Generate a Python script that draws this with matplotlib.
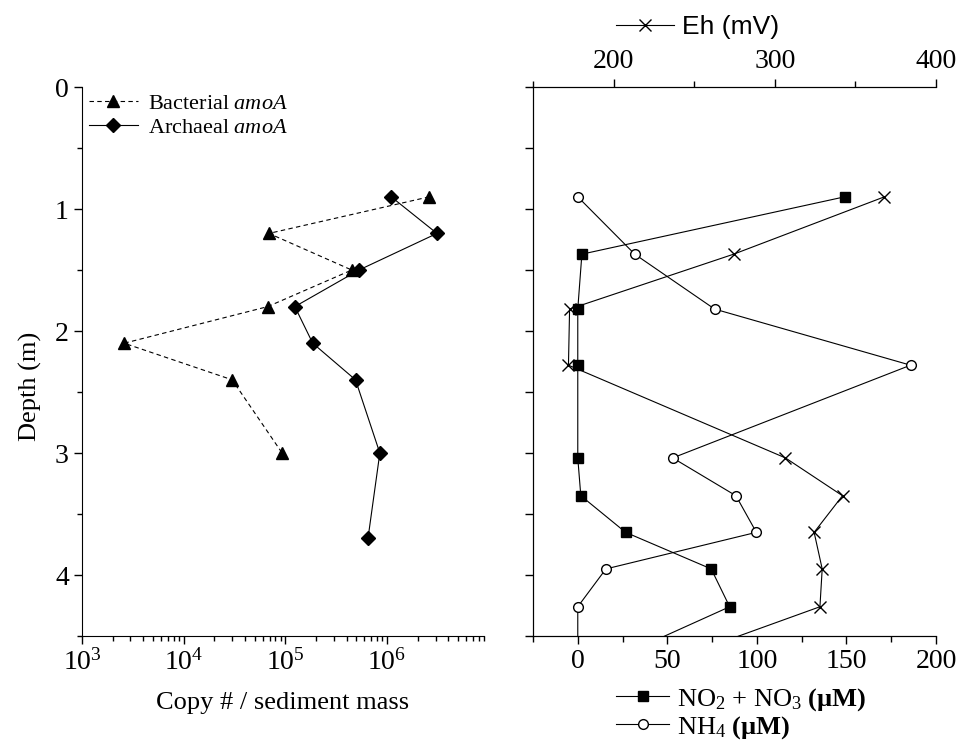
import numpy as np
import matplotlib.pyplot as plt
from matplotlib.ticker import MultipleLocator, LogLocator, NullFormatter

plt.rcParams['font.family'] = ['Liberation Serif', 'DejaVu Serif']
plt.rcParams['mathtext.fontset'] = 'custom'
plt.rcParams['mathtext.rm'] = 'Liberation Serif'
plt.rcParams['mathtext.it'] = 'Liberation Serif:italic'
plt.rcParams['mathtext.bf'] = 'Liberation Serif:bold'

# amoA gene copies per sediment mass
bact_depth = [0.9, 1.2, 1.5, 1.8, 2.1, 2.4, 3.0]
bact_copies = [2.6e6, 6.9e4, 4.5e5, 6.7e4, 2.6e3, 3.0e4, 9.3e4]
arch_depth = [0.9, 1.2, 1.5, 1.8, 2.1, 2.4, 3.0, 3.7]
arch_copies = [1.1e6, 3.1e6, 5.3e5, 1.24e5, 1.86e5, 4.9e5, 8.5e5, 6.5e5]

# porewater chemistry
pw_depth = [0.9, 1.37, 1.82, 2.28, 3.04, 3.35, 3.65, 3.95, 4.26, 4.57]
nox = [149, 2.3, 0, 0, 0, 1.7, 26.7, 74.5, 84.8, 38]
nh4 = [0, 31.8, 76.4, 185.8, 53, 88.3, 99.7, 15.7, 0, 0]
eh = [368, 274.5, 172.7, 172, 306.6, 342, 324.4, 329.4, 328, 263]

fig = plt.figure(figsize=(9.6, 7.4), dpi=100)
ax1 = fig.add_axes([0.0854, 0.1405, 0.4188, 0.7419])
ax2 = fig.add_axes([0.5552, 0.1405, 0.4198, 0.7419])

# left panel
ax1.plot(bact_copies, bact_depth, 'k--', marker='^', ms=8, lw=0.8,
         dashes=(4, 3), label='Bacterial $\\it{amoA}$')
ax1.plot(arch_copies, arch_depth, 'k-', marker='D', ms=7, lw=0.8,
         label='Archaeal $\\it{amoA}$')
ax1.set_xscale('log')
ax1.set_xlim(1e3, 9e6)
ax1.set_ylim(4.5, 0)
ax1.xaxis.set_minor_locator(LogLocator(base=10, subs=np.arange(2, 10), numticks=20))
ax1.xaxis.set_minor_formatter(NullFormatter())
ax1.set_xticks([1e3, 1e4, 1e5, 1e6])
ax1.yaxis.set_major_locator(MultipleLocator(1))
ax1.yaxis.set_minor_locator(MultipleLocator(0.5))
ax1.spines['top'].set_visible(False)
ax1.spines['right'].set_visible(False)
ax1.tick_params(which='major', direction='out', length=6, width=1, labelsize=20)
ax1.tick_params(which='minor', direction='out', length=3.5, width=1)
ax1.set_xlabel('Copy # / sediment mass', fontsize=19, labelpad=12)
ax1.set_ylabel('Depth (m)', fontsize=19)
ax1.yaxis.set_label_coords(-0.1, 0.455)
ax1.legend(loc='upper left', frameon=False, fontsize=16, handlelength=2.2,
           handletextpad=0.45, borderaxespad=0.1, labelspacing=0.15, borderpad=0.2)

# right panel: nutrients on bottom axis, Eh on top axis
l1, = ax2.plot(nox, pw_depth, 'k-', marker='s', ms=7, lw=0.8,
               label='NO$_2$ + NO$_3$ $\\mathbf{(µM)}$')
l2, = ax2.plot(nh4, pw_depth, 'k-', marker='o', ms=7, lw=0.8, mfc='white',
               label='NH$_4$ $\\mathbf{(µM)}$')
ax2.set_xlim(-25, 200)
ax2.set_ylim(4.5, 0)
ax2.xaxis.set_major_locator(MultipleLocator(50))
ax2.xaxis.set_minor_locator(MultipleLocator(25))
ax2.yaxis.set_major_locator(MultipleLocator(0.5))
ax2.set_yticklabels([])
ax2.spines['right'].set_visible(False)
ax2.tick_params(which='major', direction='out', length=6, width=1, labelsize=20)
ax2.tick_params(which='minor', direction='out', length=4, width=1)
ax2.legend(handles=[l1, l2], loc='upper left', bbox_to_anchor=(0.207, -0.091),
           frameon=False, fontsize=19, handlelength=2.0, handletextpad=0.3,
           borderpad=0, borderaxespad=0, labelspacing=0.05)

ax3 = ax2.twiny()
l3, = ax3.plot(eh, pw_depth, 'k-', marker='x', ms=8, lw=0.8, label='Eh (mV)')
ax3.set_xlim(150, 400)
ax3.set_ylim(4.5, 0)
ax3.xaxis.set_major_locator(MultipleLocator(100))
ax3.xaxis.set_minor_locator(MultipleLocator(50))
ax3.spines['right'].set_visible(False)
ax3.tick_params(which='major', direction='out', length=6, width=1, labelsize=20)
ax3.tick_params(which='minor', direction='out', length=4, width=1)
ax3.legend(handles=[l3], loc='center left', bbox_to_anchor=(0.205, 1.109),
           frameon=False, prop={'family': 'Liberation Sans', 'size': 19},
           handlelength=2.2, handletextpad=0.3, borderpad=0, borderaxespad=0)

fig.savefig('out.png', dpi=100)
